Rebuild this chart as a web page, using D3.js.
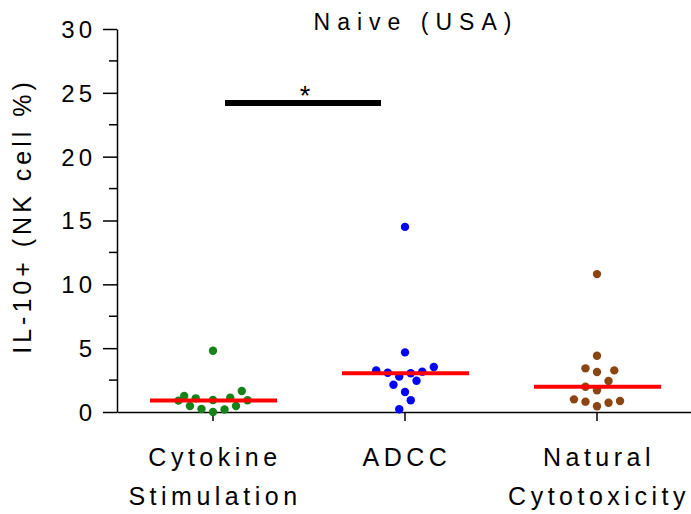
<!DOCTYPE html>
<html>
<head>
<meta charset="utf-8">
<script src="https://cdn.jsdelivr.net/npm/d3@7"></script>
<style>
  body { margin: 0; background: #fff; }
  text { font-family: "Liberation Sans", Arial, sans-serif; fill: #000; }
</style>
</head>
<body>
<svg id="chart"></svg>
<script>
// groups on the x axis
const categories = ["Cytokine Stimulation", "ADCC", "Natural Cytotoxicity"];
const labelLines = [["Cytokine", "Stimulation"], ["ADCC"], ["Natural", "Cytotoxicity"]];
const colors = ["#178217", "#0000ff", "#8b4513"];

// IL-10+ values per group
const cytokineValues = [4.8, 1.25, 0.89, 0.47, 1.07, 0.23, 0.94, 0.0, 0.2, 1.12, 0.47, 1.64, 0.92];
const adccValues = [14.5, 4.67, 3.26, 3.08, 2.77, 3.03, 3.16, 3.52, 2.14, 2.45, 1.57, 0.92, 0.21];
const naturalValues = [10.8, 4.41, 3.42, 3.13, 3.26, 2.43, 1.98, 1.70, 0.99, 0.81, 0.45, 0.73, 0.86];

// scatter column slot of each point (beeswarm spread)
const cytokineSlots = [0, -5, -6, -4, -3, -2, 0, 0, 2, 3, 4, 5, 6];
const adccSlots = [0, 0, -5, -3, -1, 1, 3, 5, -2, 2, 0, 1, -1];
const naturalSlots = [0, 0, -2, 0, 3, 2, -2, 0, -4, -2, 0, 2, 4];

const medians = [0.9, 3.03, 1.98];

const yTicks = [0, 5, 10, 15, 20, 25, 30];
const yMinorTicks = [2.5, 7.5, 12.5, 17.5, 22.5, 27.5];
const sigLevel = 24.2;

const width = 691, height = 514;
const svg = d3.select("#chart").attr("width", width).attr("height", height);

const x = d3.scaleBand().domain(categories).range([117, 693]).padding(0);
const y = d3.scaleLinear().domain([0, 30]).range([412, 29]);
const slotW = x.bandwidth() * 0.03;
const cx = c => x(c) + x.bandwidth() / 2;

// y axis
const yAxis = svg.append("g").attr("transform", "translate(117,0)")
    .call(d3.axisLeft(y).tickValues(yTicks).tickSize(14).tickSizeOuter(0).tickPadding(7));
yAxis.select(".domain").attr("stroke", "#000").attr("stroke-width", 1.5);
yAxis.selectAll(".tick line").attr("stroke-width", 1.5);
yAxis.selectAll(".tick text")
    .style("font-size", "24px")
    .style("letter-spacing", "4px")
    .attr("dy", "0.35em")
    .style("font-family", "Liberation Sans, Arial, sans-serif");

svg.append("g").selectAll("line")
    .data(yMinorTicks)
    .join("line")
    .attr("x1", 109).attr("x2", 117)
    .attr("y1", d => y(d)).attr("y2", d => y(d))
    .attr("stroke", "#000").attr("stroke-width", 1.5);

// x axis
const xAxis = svg.append("g").attr("transform", "translate(0,412)")
    .call(d3.axisBottom(x).tickSize(9).tickSizeOuter(0).tickFormat(""));
xAxis.select(".domain").attr("stroke", "#000").attr("stroke-width", 1.5);
xAxis.selectAll(".tick line").attr("stroke-width", 1.5);

const labels = svg.append("g").selectAll("text")
    .data(categories)
    .join("text")
    .attr("text-anchor", "middle")
    .style("font-size", "25px")
    .style("letter-spacing", "4.5px");
labels.each(function(c, i) {
    d3.select(this).selectAll("tspan")
        .data(labelLines[i])
        .join("tspan")
        .attr("x", cx(c) + 2)
        .attr("y", (d, j) => 466 + j * 39)
        .text(d => d);
});

// points
const groups = [
    {cat: categories[0], values: cytokineValues, slots: cytokineSlots, color: colors[0]},
    {cat: categories[1], values: adccValues, slots: adccSlots, color: colors[1]},
    {cat: categories[2], values: naturalValues, slots: naturalSlots, color: colors[2]}
];
groups.forEach(g => {
    svg.append("g").selectAll("circle")
        .data(g.values)
        .join("circle")
        .attr("cx", (d, i) => cx(g.cat) + g.slots[i] * slotW)
        .attr("cy", d => y(d))
        .attr("r", 4.2)
        .attr("fill", g.color);
});

// median lines
svg.append("g").selectAll("line")
    .data(categories)
    .join("line")
    .attr("x1", c => cx(c) - 63)
    .attr("x2", c => cx(c) + 64)
    .attr("y1", (c, i) => y(medians[i]))
    .attr("y2", (c, i) => y(medians[i]))
    .attr("stroke", "#ff0000")
    .attr("stroke-width", 4);

// significance bar
const sx1 = cx(categories[0]) + 12, sx2 = cx(categories[1]) - 24;
svg.append("line")
    .attr("x1", sx1).attr("x2", sx2)
    .attr("y1", y(sigLevel)).attr("y2", y(sigLevel))
    .attr("stroke", "#000").attr("stroke-width", 6);
svg.append("text")
    .attr("x", (sx1 + sx2) / 2 + 2).attr("y", y(sigLevel) + 2)
    .attr("text-anchor", "middle")
    .style("font-size", "27px")
    .text("*");

// title
svg.append("text")
    .attr("x", 416).attr("y", 30)
    .attr("text-anchor", "middle")
    .style("font-size", "23px")
    .style("letter-spacing", "7px")
    .text("Naive (USA)");

// y label
svg.append("text")
    .attr("transform", "translate(31,216) rotate(-90)")
    .attr("text-anchor", "middle")
    .style("font-size", "25px")
    .style("letter-spacing", "4px")
    .text("IL-10+ (NK cell %)");
</script>
</body>
</html>
